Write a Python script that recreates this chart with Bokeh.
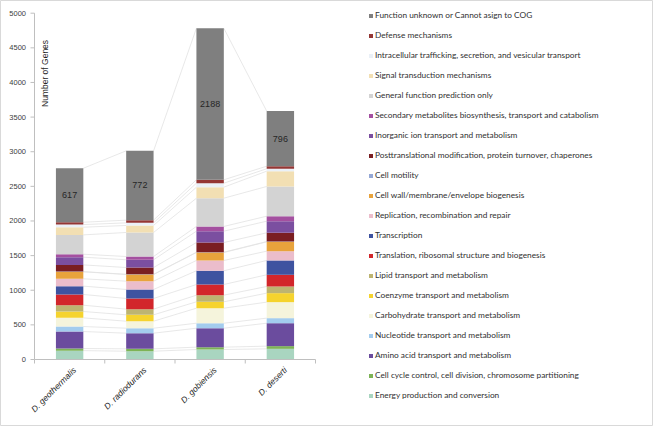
import math
from bokeh.plotting import figure
from bokeh.models import ColumnDataSource, Range1d, Legend, LegendItem, Label
from bokeh.embed import file_html
from bokeh.resources import INLINE
from bokeh.core.properties import value

categories = ["D. geothermalis", "D. radiodurans", "D. gobiensis", "D. deserti"]

# COG categories, bottom of the stack first
series_names = [
    "Energy production and conversion",
    "Cell cycle control, cell division, chromosome partitioning",
    "Amino acid transport and metabolism",
    "Nucleotide transport and metabolism",
    "Carbohydrate transport and metabolism",
    "Coenzyme transport and metabolism",
    "Lipid transport and metabolism",
    "Translation, ribosomal structure and biogenesis",
    "Transcription",
    "Replication, recombination and repair",
    "Cell wall/membrane/envelope biogenesis",
    "Cell motility",
    "Posttranslational modification, protein turnover, chaperones",
    "Inorganic ion transport and metabolism",
    "Secondary metabolites biosynthesis, transport and catabolism",
    "General function prediction only",
    "Signal transduction mechanisms",
    "Intracellular trafficking, secretion, and vesicular transport",
    "Defense mechanisms",
    "Function unknown or Cannot asign to COG",
]

energy = [128, 120, 144, 154]
cell_cycle = [31, 34, 34, 39]
amino_acid = [245, 226, 274, 331]
nucleotide = [72, 72, 72, 73]
carbohydrate = [125, 101, 217, 231]
coenzyme = [92, 92, 92, 130]
lipid = [91, 82, 96, 96]
translation = [155, 154, 154, 169]
transcription = [120, 130, 198, 207]
replication = [106, 120, 149, 134]
cell_wall = [101, 96, 115, 135]
cell_motility = [3, 3, 4, 4]
posttranslational = [97, 98, 140, 126]
inorganic_ion = [111, 112, 164, 168]
secondary_metab = [43, 47, 68, 72]
general_function = [279, 347, 408, 429]
signal_transduction = [111, 101, 159, 221]
intracellular = [38, 38, 58, 35]
defense = [34, 39, 49, 37]
function_unknown = [779, 1001, 2188, 796]
unknown_labels = ["617", "772", "2188", "796"]

y_ticks = [0, 500, 1000, 1500, 2000, 2500, 3000, 3500, 4000, 4500, 5000]
y_tick_labels = ["0", "500", "1000", "1500", "2000", "2500", "3000", "3500",
                 "4000", "4500", "5000"]

series_values = [energy, cell_cycle, amino_acid, nucleotide, carbohydrate, coenzyme,
                 lipid, translation, transcription, replication, cell_wall,
                 cell_motility, posttranslational, inorganic_ion, secondary_metab,
                 general_function, signal_transduction, intracellular, defense,
                 function_unknown]

colors = ["#A9D5C0", "#7DB356", "#6B4C9E", "#A3CCEE", "#F5F4DC", "#F5D32E",
          "#BDB471", "#D2262B", "#3E53A0", "#EBBDCB", "#E8A33C", "#95A8D5",
          "#7A1E22", "#7B4FA0", "#A450A0", "#D3D3D3", "#F2DFB3", "#EAF0F7",
          "#943634", "#7F7F7F"]

keys = ["s%d" % i for i in range(len(series_names))]
xs = [i + 0.5 for i in range(len(categories))]
data = {"x": xs}
for k, v in zip(keys, series_values):
    data[k] = v
source = ColumnDataSource(data)

FONT = "Liberation Sans"
BAR_W = 0.39

# layout geometry (pixels)
W, H = 653, 426
LEFT = 34            # y axis position
TOP_PX = 12.7        # position of the top tick
ZERO_PX = 359        # position of the baseline
CAT_PX = 70.25       # width of one category slot
K = y_ticks[-1] / (ZERO_PX - TOP_PX)   # data units per pixel
PX = 1.0 / CAT_PX                      # x data units per pixel

p = figure(width=W, height=H, output_backend="svg", toolbar_location=None,
           x_range=Range1d(-LEFT * PX, (W - LEFT) * PX),
           y_range=Range1d((ZERO_PX - H) * K, ZERO_PX * K),
           x_axis_location=None, y_axis_location=None,
           min_border_left=0, min_border_right=0,
           min_border_top=0, min_border_bottom=0)
p.outline_line_color = "#D9D9D9"
p.xgrid.visible = False
p.ygrid.visible = False
p.background_fill_color = "white"
p.border_fill_color = "white"

# connecting series lines between bars
cum = []
running = [0] * len(categories)
for v in series_values:
    running = [a + b for a, b in zip(running, v)]
    cum.append(running)
x0s, y0s, x1s, y1s = [], [], [], []
for c in cum:
    for i in range(len(categories) - 1):
        x0s.append(xs[i] + BAR_W / 2)
        x1s.append(xs[i + 1] - BAR_W / 2)
        y0s.append(c[i])
        y1s.append(c[i + 1])
p.segment(x0=x0s, y0=y0s, x1=x1s, y1=y1s, line_color="#E2E2E2", line_width=0.8)

renderers = p.vbar_stack(keys, x="x", width=BAR_W, color=colors, line_color=None,
                         source=source)

# value labels in the top segment
below_top = cum[-2]
lab_y = [b + t / 2 for b, t in zip(below_top, function_unknown)]
p.text(x=xs, y=lab_y, text=unknown_labels, text_align="center",
       text_baseline="middle", text_font=value(FONT), text_font_size="9px",
       text_color="#262626")

# value axis
nt = len(y_ticks)
p.segment(x0=[0], y0=[y_ticks[0]], x1=[0], y1=[y_ticks[-1]],
          line_color="#BFBFBF", line_width=1)
p.segment(x0=[0] * nt, y0=y_ticks, x1=[-4 * PX] * nt, y1=y_ticks,
          line_color="#BFBFBF", line_width=1)
p.text(x=[-8.5 * PX] * nt, y=y_ticks, text=y_tick_labels, text_align="right",
       text_baseline="middle", text_font=value(FONT), text_font_size="7.5px",
       text_color="#404040")

p.add_layout(Label(x=0.15, y=4130, text="Number of Genes", angle=math.pi / 2,
                   text_align="center", text_baseline="middle",
                   text_font=FONT, text_font_size="8.5px", text_color="#262626"))

# category axis along the baseline
n = len(categories)
p.segment(x0=[0], y0=[0], x1=[n], y1=[0], line_color="#BFBFBF", line_width=1)
bounds = list(range(n + 1))
p.segment(x0=bounds, y0=[0] * (n + 1), x1=bounds, y1=[-4 * K] * (n + 1),
          line_color="#BFBFBF", line_width=1)
p.text(x=[x + 5 * PX for x in xs], y=[-9 * K] * n, text=categories,
       angle=math.pi / 4, text_align="right", text_baseline="middle",
       text_font=value(FONT), text_font_style="italic", text_font_size="8.5px",
       text_color="#262626")

# legend
items = [LegendItem(label=nme, renderers=[r]) for nme, r in zip(series_names, renderers)]
items.reverse()
legend = Legend(items=items, location=(368, 21), orientation="vertical",
                glyph_width=5, glyph_height=5, label_standoff=2, label_height=20,
                spacing=0, padding=0, margin=0, border_line_color=None,
                background_fill_alpha=0, label_text_font="Lato",
                label_text_font_size="8.3px", label_text_color="#303030")
p.add_layout(legend, "center")

open("out.html", "w").write(file_html(p, INLINE))
